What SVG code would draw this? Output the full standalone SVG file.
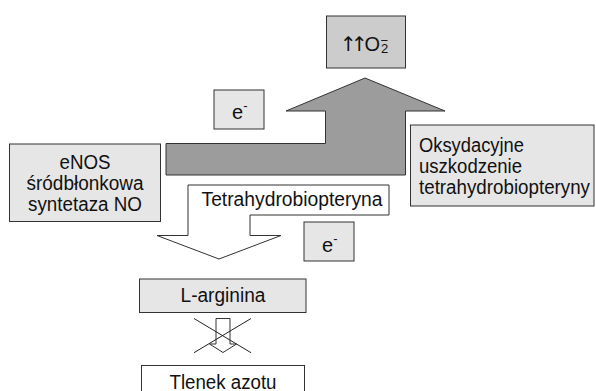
<svg xmlns="http://www.w3.org/2000/svg" width="596" height="391" viewBox="0 0 596 391">
<style>
.box{stroke:#333;stroke-width:1}
.lg{fill:#e6e6e6}
.mg{fill:#cccccc}
.wh{fill:#fff}
text{font-family:"Liberation Sans",Arial,sans-serif;font-size:20px;fill:#111}
.c{text-anchor:middle}
.sup{font-size:13px}
.arr{font-family:"DejaVu Sans",sans-serif;font-size:20px}
.ln{stroke:#222;stroke-width:1;fill:none}
</style>
<rect width="596" height="391" fill="#fff"/>
<g id="connectors">
<polygon id="gray-arrow" class="box" fill="#9c9c9c" points="365,78 445,111 405.5,111 405.5,175 166,175 166,143.5 325.5,143.5 325.5,111 286,111"/>
<polygon id="small-arrow" class="box wh" points="216,318.5 230,318.5 230,344 236.5,344 223,352.5 209.5,344 216,344"/>
<line class="ln" x1="194" y1="318.5" x2="251" y2="352.7"/>
<line class="ln" x1="251" y1="318.5" x2="194" y2="352.7"/>
</g>
<g id="superoxide">
<rect class="box mg" x="326.5" y="16" width="79" height="52"/>
<text y="51"><tspan class="arr" x="340">↑</tspan><tspan class="arr" x="351">↑</tspan><tspan x="364.5">O</tspan><tspan class="sup" x="381" dy="2">2</tspan></text>
<text class="sup" x="380.5" y="45">−</text>
</g>
<g id="e1">
<rect class="box lg" x="214" y="90" width="50" height="39"/>
<text x="232" y="119">e<tspan class="sup" dy="-9">-</tspan></text>
</g>
<g id="enos">
<rect class="box lg" x="9.5" y="144" width="151" height="77.5"/>
<text class="c" x="85" y="169" textLength="51" lengthAdjust="spacingAndGlyphs">eNOS</text>
<text class="c" x="85" y="190" textLength="117" lengthAdjust="spacingAndGlyphs">śródbłonkowa</text>
<text class="c" x="85" y="211" textLength="114" lengthAdjust="spacingAndGlyphs">syntetaza NO</text>
</g>
<g id="oksydacyjne">
<rect class="box lg" x="410.5" y="125" width="183.5" height="81"/>
<text x="419" y="152" textLength="105" lengthAdjust="spacingAndGlyphs">Oksydacyjne</text>
<text x="419" y="173" textLength="103" lengthAdjust="spacingAndGlyphs">uszkodzenie</text>
<text x="419" y="194" textLength="171" lengthAdjust="spacingAndGlyphs">tetrahydrobiopteryny</text>
</g>
<g id="tetrahydrobiopteryna">
<polygon class="box wh" points="188,185 389,185 389,215 250,215 250,235.5 281,235.5 219,259 157,235.5 188,235.5"/>
<text class="c" x="292" y="206" textLength="181" lengthAdjust="spacingAndGlyphs">Tetrahydrobiopteryna</text>
</g>
<g id="e2">
<rect class="box lg" x="304" y="222" width="50" height="39"/>
<text x="322" y="252">e<tspan class="sup" dy="-9">-</tspan></text>
</g>
<g id="l-arginina">
<rect class="box lg" x="139.5" y="279" width="166.5" height="33.5"/>
<text class="c" x="223" y="302" textLength="85" lengthAdjust="spacingAndGlyphs">L-arginina</text>
</g>
<g id="tlenek">
<rect class="box wh" x="141.5" y="365.5" width="163" height="30"/>
<text class="c" x="223" y="389" textLength="107" lengthAdjust="spacingAndGlyphs">Tlenek azotu</text>
</g>
</svg>
